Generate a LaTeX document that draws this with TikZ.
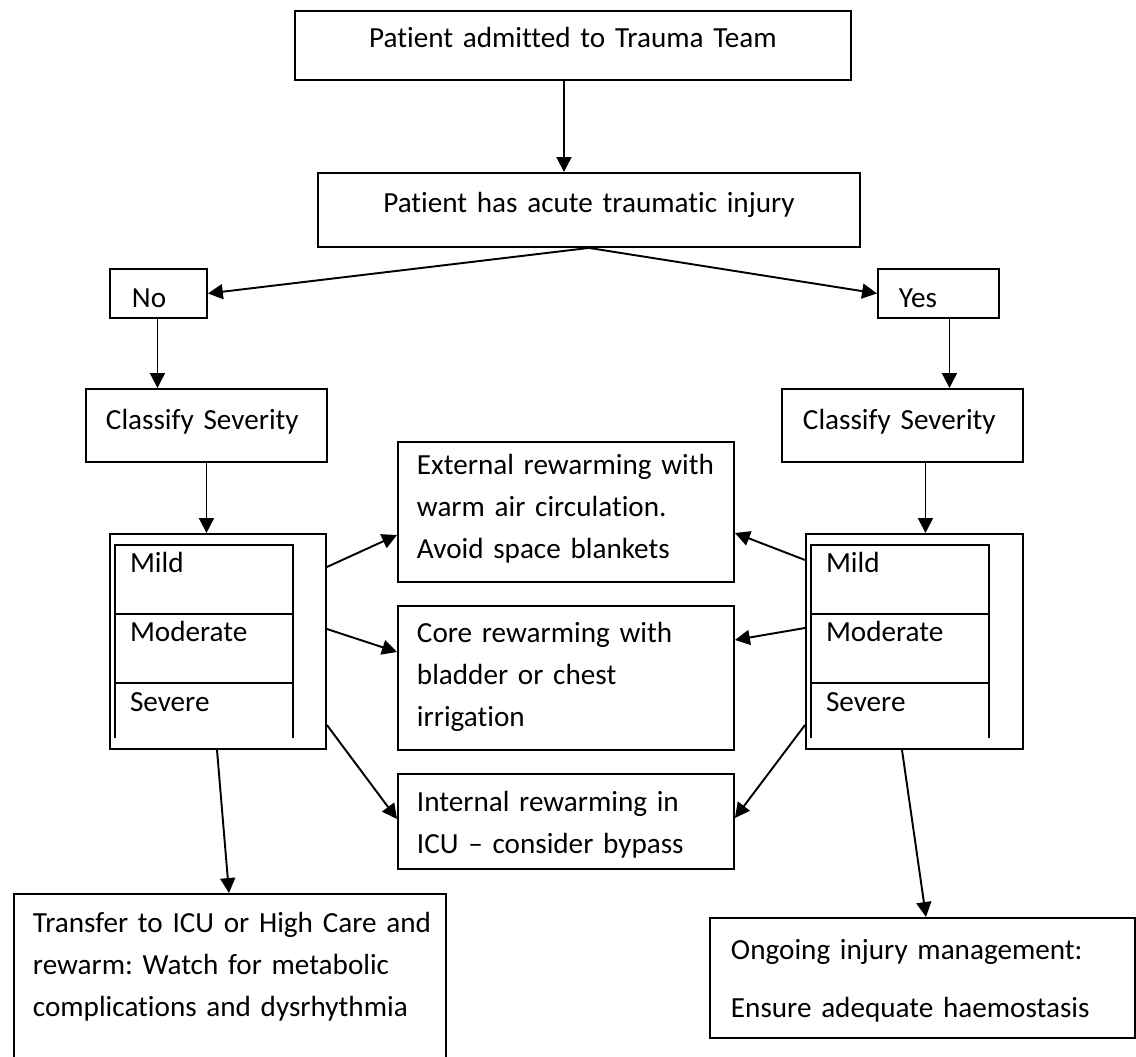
\documentclass[tikz,border=0pt]{standalone}
\usepackage{fontspec}
\setmainfont{Carlito}[Ligatures={TeX,NoCommon}]
\usetikzlibrary{arrows.meta}
\newlength{\px}
\setlength{\px}{0.02cm}
\frenchspacing

\begin{document}
\begin{tikzpicture}[
      x=1\px, y=-1\px,
      mybox/.style={
         draw=black,
         line width=1.1pt,
         anchor=north west,
         inner ysep=0pt,
         inner xsep=19\px,
         align=left,
         font=\fontsize{16.6}{23.7}\selectfont},
      mycell/.style={
         anchor=north west,
         inner ysep=0pt,
         inner xsep=15\px,
         outer sep=0pt,
         text width=148\px,
         text height=27\px,
         text depth=42\px,
         align=left,
         font=\fontsize{16.6}{23.7}\selectfont},
      myline/.style={line width=1.1pt},
      myarrow/.style={line width=1.1pt,-{Triangle[length=8.5pt,width=8.5pt]}},
      ]
      \useasboundingbox (0,0) rectangle (1136,1057);
      \node[mybox,align=center,text width=518\px,text height=37\px,text depth=32\px] (admit) at (294,10) {Patient admitted to Trauma Team};
      \node[mybox,align=center,text width=504\px,text height=40\px,text depth=34\px] (injury) at (317,172) {Patient has acute traumatic injury};
      \node[mybox,inner xsep=22\px,text width=53\px,text height=39\px,text depth=10\px] (no) at (109,268) {No};
      \node[mybox,inner xsep=21\px,text width=79\px,text height=39\px,text depth=10\px] (yes) at (877,268) {Yes};
      \node[mybox,inner xsep=20\px,text width=201\px,text height=41\px,text depth=32\px] (clsL) at (85,388) {Classify Severity};
      \node[mybox,inner xsep=21\px,text width=199\px,text height=41\px,text depth=32\px] (clsR) at (781,388) {Classify Severity};
      % severity tables
      \node[mybox,inner sep=0pt,minimum width=216\px,minimum height=215\px] (sevL) at (109,533) {};
      \node[mybox,inner sep=0pt,minimum width=217\px,minimum height=215\px] (sevR) at (805,533) {};
      \node[mycell] (mildL) at (115,545) {Mild};
      \node[mycell] (modL) at (mildL.south west) {Moderate};
      \node[mycell,text height=28\px,text depth=27\px] (sevrL) at (modL.south west) {Severe};
      \node[mycell] (mildR) at (811,545) {Mild};
      \node[mycell] (modR) at (mildR.south west) {Moderate};
      \node[mycell,text height=28\px,text depth=27\px] (sevrR) at (modR.south west) {Severe};
      \draw[myline] (sevrL.south west) |- (mildL.north east) -- (sevrL.south east)
         (mildL.south west) -- (mildL.south east) (modL.south west) -- (modL.south east);
      \draw[myline] (sevrR.south west) |- (mildR.north east) -- (sevrR.south east)
         (mildR.south west) -- (mildR.south east) (modR.south west) -- (modR.south east);
      % rewarming
      \node[mybox,text width=298\px,text height=33\px,text depth=107\px] (ext) at (397,441) {External rewarming with\\warm air circulation.\\Avoid space blankets};
      \node[mybox,text width=298\px,text height=37\px,text depth=107\px] (core) at (397,605) {Core rewarming with\\bladder or chest\\irrigation};
      \node[mybox,text width=298\px,text height=38\px,text depth=57\px] (intl) at (397,773) {Internal rewarming in\\ICU \textendash{} consider bypass};
      \node[mybox,text width=394\px,text height=39\px,text depth=300\px] (transfer) at (13,893) {\mbox{Transfer to ICU or High Care and}\\rewarm: Watch for metabolic\\complications and dysrhythmia};
      \node[mybox,inner xsep=21\px,text width=383\px,text height=42\px,text depth=78\px] (ongoing) at (709,917) {Ongoing injury management:\\[16\px]Ensure adequate haemostasis};
      % connectors
      \draw[myarrow] ([xshift=-9\px]admit.south) -- ([xshift=-9\px]admit.south |- injury.north);
      \draw[myarrow] (injury.south) -- (no.east);
      \draw[myarrow] (injury.south) -- (yes.west);
      \draw[myarrow] ([xshift=-1\px]no.south) -- ([xshift=-1\px]no.south |- clsL.north);
      \draw[myarrow] ([xshift=11\px]yes.south) -- ([xshift=11\px]yes.south |- clsR.north);
      \draw[myarrow] (clsL.south) -- (clsL.south |- sevL.north);
      \draw[myarrow] ([xshift=23\px]clsR.south) -- ([xshift=23\px]clsR.south |- sevR.north);
      \draw[myarrow] ([yshift=-34\px]sevL.north east) -- ([yshift=-94\px]ext.north west);
      \draw[myarrow] ([yshift=-96\px]sevL.north east) -- ([yshift=-47\px]core.north west);
      \draw[myarrow] ([yshift=-192\px]sevL.north east) -- ([yshift=-46\px]intl.north west);
      \draw[myarrow] ([xshift=108\px]sevL.south west) -- ([xshift=216\px]transfer.north west);
      \draw[myarrow] ([yshift=-27\px]sevR.north west) -- ([yshift=-92\px]ext.north east);
      \draw[myarrow] ([yshift=-95\px]sevR.north west) -- ([yshift=-35\px]core.north east);
      \draw[myarrow] ([yshift=-192\px]sevR.north west) -- ([yshift=-45\px]intl.north east);
      \draw[myarrow] ([xshift=97\px]sevR.south west) -- ([xshift=217\px]ongoing.north west);
\end{tikzpicture}
\end{document}
